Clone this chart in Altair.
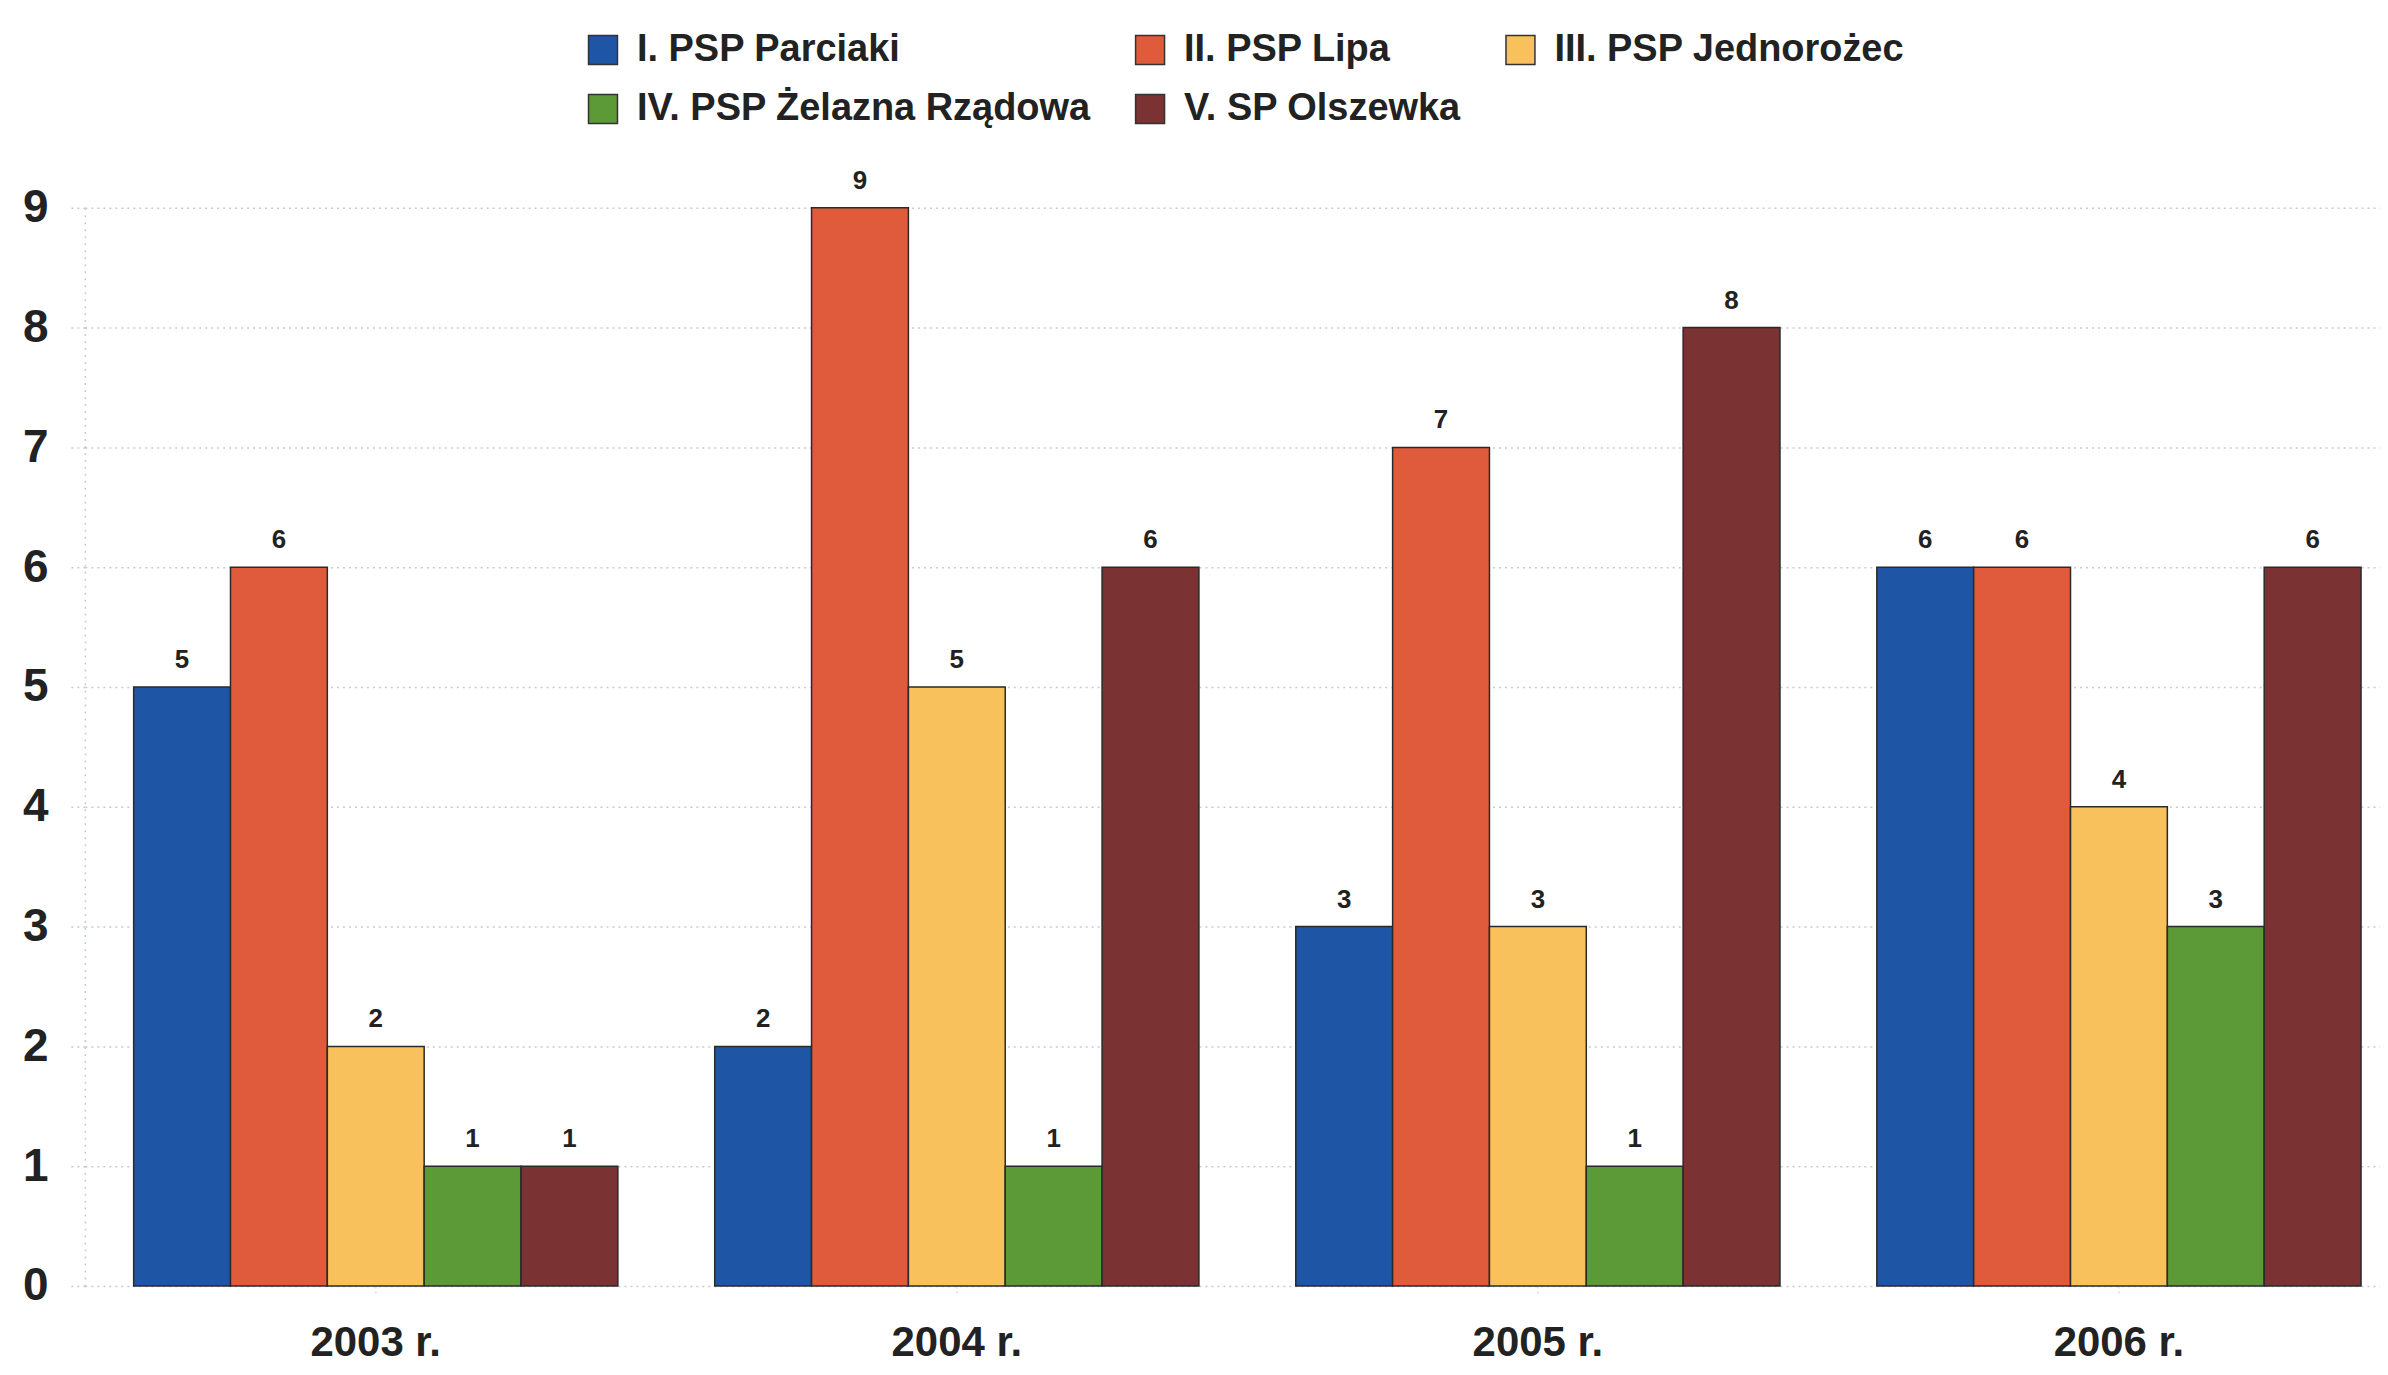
import altair as alt
import pandas as pd

years = ["2003 r.", "2004 r.", "2005 r.", "2006 r."]
schools = [
    "I. PSP Parciaki",
    "II. PSP Lipa",
    "III. PSP Jednorożec",
    "IV. PSP Żelazna Rządowa",
    "V. SP Olszewka",
]
parciaki = [5, 2, 3, 6]
lipa = [6, 9, 7, 6]
jednorozec = [2, 5, 3, 4]
zelazna = [1, 1, 1, 3]
olszewka = [1, 6, 8, 6]
colors = ["#1f55a5", "#e05a3c", "#f9c15c", "#5c9a38", "#7b3232"]
y_ticks = [0, 1, 2, 3, 4, 5, 6, 7, 8, 9]

rows = []
for s, vals in zip(schools, [parciaki, lipa, jednorozec, zelazna, olszewka]):
    for yr, v in zip(years, vals):
        rows.append({"rok": yr, "szkola": s, "wartosc": v})
df = pd.DataFrame(rows)

FONT = "Liberation Sans"
TXT = "#222222"
GRID = "#c3ccd4"

base = alt.Chart(df).encode(
    x=alt.X(
        "rok:N",
        sort=years,
        scale=alt.Scale(paddingInner=0.1667, paddingOuter=0.0583, align=0.72),
        axis=alt.Axis(
            title=None,
            labelAngle=0,
            labelFont=FONT,
            labelFontSize=42,
            labelFontWeight="bold",
            labelColor=TXT,
            labelPadding=29,
            tickSize=8,
            tickColor=GRID,
            tickDash=[2, 3],
            domain=False,
            grid=False,
        ),
    ),
    xOffset=alt.XOffset(
        "szkola:N", sort=schools, scale=alt.Scale(paddingInner=0, paddingOuter=0)
    ),
    y=alt.Y(
        "wartosc:Q",
        scale=alt.Scale(domain=[0, 9], nice=False),
        axis=alt.Axis(
            title=None,
            values=y_ticks,
            labelFont=FONT,
            labelFontSize=46,
            labelFontWeight="bold",
            labelColor=TXT,
            labelPadding=19,
            tickSize=18,
            tickColor=GRID,
            tickDash=[2, 4],
            tickWidth=1.5,
            grid=True,
            gridColor=GRID,
            gridDash=[2, 4],
            gridWidth=1.5,
            domainColor=GRID,
            domainDash=[2, 5],
            domainWidth=1.5,
        ),
    ),
)

bars = base.mark_bar(stroke="#2a2a2a", strokeWidth=1.5).encode(
    color=alt.Color(
        "szkola:N",
        sort=schools,
        scale=alt.Scale(domain=schools, range=colors),
        legend=alt.Legend(
            title=None,
            orient="none",
            direction="horizontal",
            legendX=500,
            legendY=-177,
            columns=3,
            symbolType="square",
            symbolSize=841,
            symbolStrokeColor="#333333",
            symbolStrokeWidth=1.5,
            symbolOpacity=1,
            labelFont=FONT,
            labelFontSize=38,
            labelFontWeight="bold",
            labelColor=TXT,
            labelOffset=15,
            labelLimit=0,
            columnPadding=40,
            rowPadding=21,
            padding=0,
        ),
    )
)

labels = base.mark_text(
    baseline="alphabetic",
    dy=-19,
    font=FONT,
    fontSize=26,
    fontWeight="bold",
    color=TXT,
).encode(text="wartosc:Q")

chart = (
    alt.layer(bars, labels)
    .properties(
        width=2299,
        height=1080,
        autosize=alt.AutoSizeParams(type="none"),
        padding={"left": 77, "top": 199, "right": 0, "bottom": 79},
        background="white",
    )
    .configure_view(stroke=None)
)

chart.save("out.html", embed_options={"renderer": "svg", "actions": False})
